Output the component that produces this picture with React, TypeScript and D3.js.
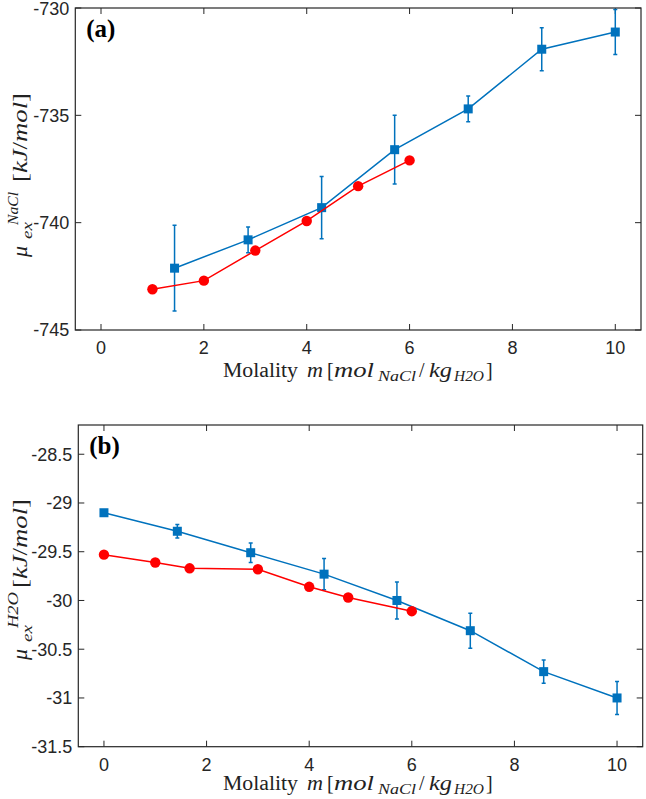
import React from "react";
import * as d3 from "d3";

// Panel (a): NaCl excess chemical potential
const simMolalityA = [1.43, 2.86, 4.29, 5.71, 7.14, 8.57, 10.0];
const simNaCl = [-742.12, -740.8, -739.3, -736.6, -734.7, -731.92, -731.12];
const simNaClErr = [2.0, 0.6, 1.45, 1.6, 0.6, 1.0, 1.05];
const refMolalityA = [1, 2, 3, 4, 5, 6];
const refNaCl = [-743.1, -742.7, -741.3, -739.92, -738.3, -737.1];
const yTicksA = [-745, -740, -735, -730];

// Panel (b): H2O excess chemical potential
const simMolalityB = [0, 1.43, 2.86, 4.29, 5.71, 7.14, 8.57, 10.0];
const simH2O = [-29.1, -29.29, -29.51, -29.73, -30.0, -30.31, -30.73, -31.0];
const simH2OErr = [0.03, 0.07, 0.1, 0.16, 0.19, 0.18, 0.12, 0.17];
const refMolalityB = [0, 1, 1.67, 3, 4, 4.76, 6];
const refH2O = [-29.53, -29.61, -29.67, -29.68, -29.86, -29.97, -30.11];
const yTicksB = [-31.5, -31, -30.5, -30, -29.5, -29, -28.5];

const xTicks = [0, 2, 4, 6, 8, 10];

const BLUE = "#0072BD";
const RED = "#FF0000";
const AXIS = "#262626";
const SANS = "'Liberation Sans', Arial, Helvetica, sans-serif";
const SERIF = "'Liberation Serif', 'Times New Roman', serif";

type PanelProps = {
  id: string;
  left: number;
  right: number;
  top: number;
  bottom: number;
  yDomain: [number, number];
  yTicks: number[];
  simX: number[];
  simY: number[];
  simErr: number[];
  refX: number[];
  refY: number[];
  tag: string;
  sup: string;
  labelBaseY: number;
  yLabelStart: number;
  yBracketOffset: number;
};

function Panel(p: PanelProps) {
  const x = d3.scaleLinear().domain([-0.5, 10.5]).range([p.left, p.right]);
  const y = d3.scaleLinear().domain(p.yDomain).range([p.bottom, p.top]);
  const line = d3
    .line<[number, number]>()
    .x((d) => x(d[0]))
    .y((d) => y(d[1]));
  const simPts: [number, number][] = p.simX.map((v, i) => [v, p.simY[i]]);
  const refPts: [number, number][] = p.refX.map((v, i) => [v, p.refY[i]]);
  const tl = 6;
  const clipId = "clip-" + p.id;
  const lb = p.labelBaseY;
  const sg = "spacingAndGlyphs";
  return (
    <g>
      <defs>
        <clipPath id={clipId}>
          <rect x={p.left} y={p.top} width={p.right - p.left} height={p.bottom - p.top} />
        </clipPath>
      </defs>
      {/* ticks */}
      {xTicks.map((t) => (
        <g key={"xt" + t}>
          <line x1={x(t)} x2={x(t)} y1={p.bottom} y2={p.bottom - tl} stroke={AXIS} strokeWidth={1} />
          <line x1={x(t)} x2={x(t)} y1={p.top} y2={p.top + tl} stroke={AXIS} strokeWidth={1} />
          <text x={x(t)} y={p.bottom + 24} textAnchor="middle" fontFamily={SANS} fontSize={18} fill={AXIS}>
            {t}
          </text>
        </g>
      ))}
      {p.yTicks.map((t) => (
        <g key={"yt" + t}>
          <line x1={p.left} x2={p.left + tl} y1={y(t)} y2={y(t)} stroke={AXIS} strokeWidth={1} />
          <line x1={p.right} x2={p.right - tl} y1={y(t)} y2={y(t)} stroke={AXIS} strokeWidth={1} />
          <text x={p.left - 6} y={Math.max(y(t), 9)} dy="0.35em" textAnchor="end" fontFamily={SANS} fontSize={18} fill={AXIS}>
            {String(t)}
          </text>
        </g>
      ))}
      <rect x={p.left} y={p.top} width={p.right - p.left} height={p.bottom - p.top} fill="none" stroke={AXIS} strokeWidth={1.2} />

      <g clipPath={`url(#${clipId})`}>
        {/* simulation series with error bars */}
        <path d={line(simPts) || ""} fill="none" stroke={BLUE} strokeWidth={1.5} />
        {simPts.map((d, i) => {
          const cx = x(d[0]);
          const y1 = y(d[1] + p.simErr[i]);
          const y2 = y(d[1] - p.simErr[i]);
          return (
            <g key={"eb" + i} stroke={BLUE} strokeWidth={1.5}>
              <line x1={cx} x2={cx} y1={y1} y2={y2} />
              <line x1={cx - 2} x2={cx + 2} y1={y1} y2={y1} />
              <line x1={cx - 2} x2={cx + 2} y1={y2} y2={y2} />
            </g>
          );
        })}
        {simPts.map((d, i) => (
          <rect key={"sq" + i} x={x(d[0]) - 4.5} y={y(d[1]) - 4.5} width={9} height={9} fill={BLUE} />
        ))}
        {/* reference series */}
        <path d={line(refPts) || ""} fill="none" stroke={RED} strokeWidth={1.5} />
        {refPts.map((d, i) => (
          <circle key={"c" + i} cx={x(d[0])} cy={y(d[1])} r={5.2} fill={RED} />
        ))}
      </g>

      {/* panel tag */}
      <text x={p.left + 11} y={p.top + 29} fontFamily={SERIF} fontWeight="bold" fontSize={25} fill="#000">
        {p.tag}
      </text>

      {/* x label */}
      <text fontFamily={SERIF} fontSize={20} fill="#222">
        <tspan x={223} y={lb} textLength={75} lengthAdjust={sg}>Molality</tspan>
        <tspan x={307} y={lb} fontSize={21} fontStyle="italic" textLength={16} lengthAdjust={sg}>m</tspan>
        <tspan x={327} y={lb}>[</tspan>
        <tspan x={334} y={lb} fontSize={21} fontStyle="italic" textLength={40} lengthAdjust={sg}>mol</tspan>
        <tspan x={378} y={lb + 4} fontStyle="italic" fontSize={14} textLength={38} lengthAdjust={sg}>NaCl</tspan>
        <tspan x={419} y={lb}>/</tspan>
        <tspan x={429} y={lb} fontSize={21} fontStyle="italic" textLength={23} lengthAdjust={sg}>kg</tspan>
        <tspan x={454} y={lb + 4} fontStyle="italic" fontSize={14} textLength={30} lengthAdjust={sg}>H2O</tspan>
        <tspan x={486} y={lb}>]</tspan>
      </text>

      {/* y label */}
      <g transform={`translate(27,${p.yLabelStart}) rotate(-90)`} fontFamily={SERIF} fill="#222">
        <text x={0} y={0} fontSize={22} fontStyle="italic">μ</text>
        <text x={18} y={5} fontSize={14} fontStyle="italic" textLength={17} lengthAdjust={sg}>ex</text>
        <text x={32} y={-9} fontSize={14} fontStyle="italic" textLength={p.sup === "NaCl" ? 33 : 36} lengthAdjust={sg}>{p.sup}</text>
        <text x={p.yBracketOffset} y={0} fontSize={21} textLength={89} lengthAdjust={sg}>
          <tspan>[</tspan>
          <tspan fontStyle="italic">kJ</tspan>
          <tspan>/</tspan>
          <tspan fontStyle="italic">mol</tspan>
          <tspan>]</tspan>
        </text>
      </g>
    </g>
  );
}

export default function App() {
  return (
    <svg
      width={646}
      height={799}
      style={{ position: "absolute", left: 0, top: 0, background: "#fff" }}
      xmlns="http://www.w3.org/2000/svg"
    >
      <rect x={0} y={0} width={646} height={799} fill="#fff" />
      <Panel
        id="a"
        left={75.3}
        right={641}
        top={8}
        bottom={330}
        yDomain={[-745, -730]}
        yTicks={yTicksA}
        simX={simMolalityA}
        simY={simNaCl}
        simErr={simNaClErr}
        refX={refMolalityA}
        refY={refNaCl}
        tag="(a)"
        sup="NaCl"
        labelBaseY={377}
        yLabelStart={257}
        yBracketOffset={75}
      />
      <Panel
        id="b"
        left={78.3}
        right={642.7}
        top={425}
        bottom={746.7}
        yDomain={[-31.5, -28.2]}
        yTicks={yTicksB}
        simX={simMolalityB}
        simY={simH2O}
        simErr={simH2OErr}
        refX={refMolalityB}
        refY={refH2O}
        tag="(b)"
        sup="H2O"
        labelBaseY={790}
        yLabelStart={660}
        yBracketOffset={72}
      />
    </svg>
  );
}
